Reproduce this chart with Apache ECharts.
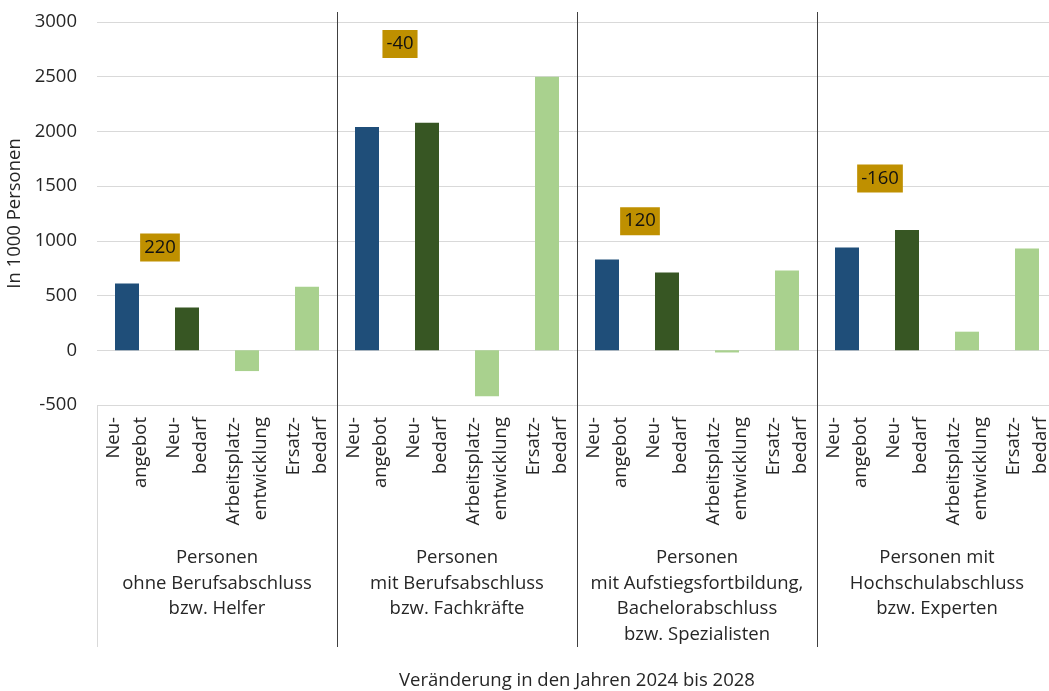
<!DOCTYPE html>
<html>
<head>
<meta charset="utf-8">
<script src="https://cdn.jsdelivr.net/npm/echarts@6/dist/echarts.min.js"></script>
<style>html,body{margin:0;padding:0;background:#fff}#c{width:1049px;height:691px}</style>
</head>
<body>
<div id="c"></div>
<script>
const barTypes = ['Neu-\nangebot', 'Neu-\nbedarf', 'Arbeitsplatz-\nentwicklung', 'Ersatz-\nbedarf'];
const groups = [
  'Personen\nohne Berufsabschluss\nbzw. Helfer',
  'Personen\nmit Berufsabschluss\nbzw. Fachkräfte',
  'Personen\nmit Aufstiegsfortbildung,\nBachelorabschluss\nbzw. Spezialisten',
  'Personen mit\nHochschulabschluss\nbzw. Experten'
];
const helfer = [610, 390, -190, 580];
const fachkraefte = [2040, 2080, -420, 2500];
const spezialisten = [830, 710, -20, 730];
const experten = [940, 1100, 170, 930];
const balance = [220, -40, 120, -160];
const balanceAnchor = [940, 2800, 1180, 1570];
const yTicks = { min: -500, max: 3000, interval: 500 };
const yName = 'In 1000 Personen';
const xName = 'Veränderung in den Jahren 2024 bis 2028';

const groupValues = [helfer, fachkraefte, spezialisten, experten];
const categories = [];
const values = [];
groupValues.forEach(g => { g.forEach((v, i) => { categories.push(barTypes[i]); values.push(v); }); });
const colors = ['#1f4e79', '#375623', '#a9d18e', '#a9d18e'];
const annoData = balance.map((b, g) => [4 * g + 1.05, balanceAnchor[g], b]);

const font = 'Open Sans';
const fs = 18.5;
const txt = '#262626';
const chart = echarts.init(document.getElementById('c'));
chart.setOption({
  animation: false,
  textStyle: { fontFamily: font },
  grid: { left: 97, right: -8, top: 22, bottom: 286, containLabel: false, outerBoundsMode: 'none' },
  xAxis: [
    {
      type: 'category', data: categories, position: 'bottom',
      axisLine: { show: false }, axisTick: { show: false }, splitLine: { show: false },
      axisLabel: { interval: 0, rotate: 90, margin: 12, fontSize: fs, lineHeight: 27, color: txt, fontFamily: font }
    },
    {
      type: 'category', data: groups, position: 'bottom',
      axisLine: { show: false },
      axisTick: { show: true, length: 242, interval: (i) => i !== 0, lineStyle: { color: '#404040', width: 1 } },
      splitLine: { show: true, interval: (i) => i !== 0, lineStyle: { color: '#404040', width: 1 } },
      axisLabel: { interval: 0, margin: 140, fontSize: fs, lineHeight: 25.5, color: txt, fontFamily: font, verticalAlign: 'top' },
      name: xName, nameLocation: 'middle', nameGap: 266,
      nameTextStyle: { fontSize: fs, color: txt, fontFamily: font }
    },
    {
      type: 'category', data: groups, position: 'bottom',
      axisLine: { show: false }, axisLabel: { show: false }, splitLine: { show: false },
      axisTick: { show: true, length: 242, interval: (i) => i === 0, lineStyle: { color: '#d9d9d9', width: 1 } }
    },
    {
      type: 'category', data: groups, position: 'top',
      axisLine: { show: false }, axisLabel: { show: false }, splitLine: { show: false },
      axisTick: { show: true, length: 10, interval: (i) => i !== 0, lineStyle: { color: '#404040', width: 1 } }
    },
    { type: 'value', min: 0, max: 16, show: false, position: 'top' }
  ],
  yAxis: {
    type: 'value', min: yTicks.min, max: yTicks.max, interval: yTicks.interval,
    axisLine: { show: false }, axisTick: { show: false },
    splitLine: { lineStyle: { color: '#d9d9d9', width: 1 } },
    axisLabel: { margin: 20, fontSize: fs, color: txt, fontFamily: font, formatter: (v) => String(v) },
    name: yName, nameLocation: 'middle', nameGap: 66, nameRotate: 90,
    nameTextStyle: { fontSize: fs, color: txt, fontFamily: font }
  },
  series: [
    {
      type: 'bar', xAxisIndex: 0, yAxisIndex: 0, barWidth: 24, data: values,
      itemStyle: { color: (p) => colors[p.dataIndex % 4] }
    },
    {
      type: 'scatter', xAxisIndex: 4, yAxisIndex: 0, data: annoData, z: 10,
      symbol: 'rect', symbolSize: 1, itemStyle: { color: 'rgba(0,0,0,0)', opacity: 1 },
      label: {
        show: true, position: 'inside', formatter: (p) => String(p.value[2]),
        backgroundColor: '#bf9000', padding: [5, 4, 4, 4], fontSize: fs, color: '#111111', fontFamily: font
      }
    }
  ]
});
</script>
</body>
</html>
